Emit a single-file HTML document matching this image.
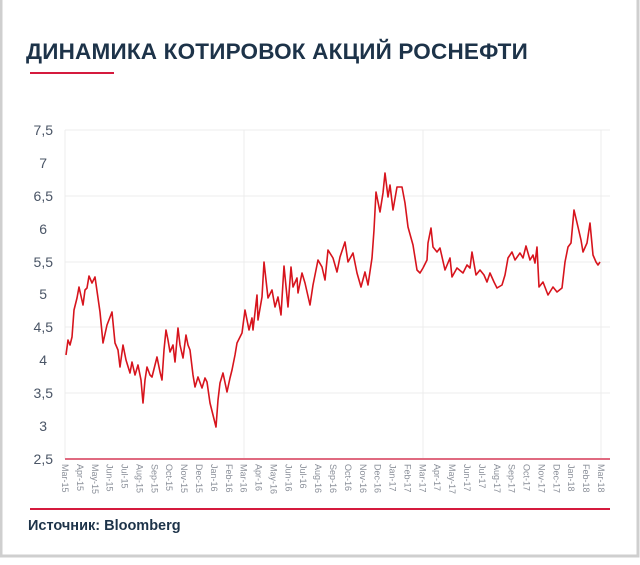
<!DOCTYPE html>
<html><head><meta charset="utf-8"><style>
html,body{margin:0;padding:0;background:#fff}
body{width:640px;height:560px;overflow:hidden;font-family:"Liberation Sans",sans-serif}
</style></head><body>
<svg width="640" height="560" xmlns="http://www.w3.org/2000/svg" font-family="Liberation Sans, sans-serif">
<rect x="0" y="0" width="640" height="560" fill="#fff"/>
<rect x="1" y="-2" width="637" height="558" fill="none" stroke="#cfcfcf" stroke-width="3"/>
<text x="26" y="59" font-size="22.5" font-weight="bold" fill="#1d3349" letter-spacing="0.2">ДИНАМИКА КОТИРОВОК АКЦИЙ РОСНЕФТИ</text>
<line x1="30" y1="73" x2="114" y2="73" stroke="#d51a3d" stroke-width="2"/>
<g stroke="#ececec" stroke-width="1">
<line x1="65" y1="130" x2="610" y2="130"/>
<line x1="65" y1="196" x2="610" y2="196"/>
<line x1="65" y1="262" x2="610" y2="262"/>
<line x1="65" y1="327" x2="610" y2="327"/>
<line x1="65" y1="393" x2="610" y2="393"/>
<line x1="65" y1="130" x2="65" y2="459"/>
<line x1="244" y1="130" x2="244" y2="459"/>
<line x1="423" y1="130" x2="423" y2="459"/>
<line x1="601" y1="130" x2="601" y2="459"/>
</g>
<g font-size="14" fill="#4a5566" text-anchor="end">
<text x="53" y="135">7,5</text><text x="47" y="168">7</text><text x="53" y="201">6,5</text>
<text x="47" y="234">6</text><text x="53" y="267">5,5</text><text x="47" y="299">5</text>
<text x="53" y="332">4,5</text><text x="47" y="365">4</text><text x="53" y="398">3,5</text>
<text x="47" y="431">3</text><text x="53" y="464">2,5</text>
</g>
<line x1="65" y1="459" x2="610" y2="459" stroke="#e06a80" stroke-width="2"/>
<g font-size="9" fill="#8a8f99">
<text transform="translate(62,464) rotate(90)">Mar-15</text>
<text transform="translate(76.9,464) rotate(90)">Apr-15</text>
<text transform="translate(91.8,464) rotate(90)">May-15</text>
<text transform="translate(106.7,464) rotate(90)">Jun-15</text>
<text transform="translate(121.6,464) rotate(90)">Jul-15</text>
<text transform="translate(136.5,464) rotate(90)">Aug-15</text>
<text transform="translate(151.3,464) rotate(90)">Sep-15</text>
<text transform="translate(166.2,464) rotate(90)">Oct-15</text>
<text transform="translate(181.1,464) rotate(90)">Nov-15</text>
<text transform="translate(196,464) rotate(90)">Dec-15</text>
<text transform="translate(210.9,464) rotate(90)">Jan-16</text>
<text transform="translate(225.8,464) rotate(90)">Feb-16</text>
<text transform="translate(240.7,464) rotate(90)">Mar-16</text>
<text transform="translate(255.6,464) rotate(90)">Apr-16</text>
<text transform="translate(270.5,464) rotate(90)">May-16</text>
<text transform="translate(285.4,464) rotate(90)">Jun-16</text>
<text transform="translate(300.2,464) rotate(90)">Jul-16</text>
<text transform="translate(315.1,464) rotate(90)">Aug-16</text>
<text transform="translate(330,464) rotate(90)">Sep-16</text>
<text transform="translate(344.9,464) rotate(90)">Oct-16</text>
<text transform="translate(359.8,464) rotate(90)">Nov-16</text>
<text transform="translate(374.7,464) rotate(90)">Dec-16</text>
<text transform="translate(389.6,464) rotate(90)">Jan-17</text>
<text transform="translate(404.5,464) rotate(90)">Feb-17</text>
<text transform="translate(419.4,464) rotate(90)">Mar-17</text>
<text transform="translate(434.2,464) rotate(90)">Apr-17</text>
<text transform="translate(449.1,464) rotate(90)">May-17</text>
<text transform="translate(464,464) rotate(90)">Jun-17</text>
<text transform="translate(478.9,464) rotate(90)">Jul-17</text>
<text transform="translate(493.8,464) rotate(90)">Aug-17</text>
<text transform="translate(508.7,464) rotate(90)">Sep-17</text>
<text transform="translate(523.6,464) rotate(90)">Oct-17</text>
<text transform="translate(538.5,464) rotate(90)">Nov-17</text>
<text transform="translate(553.4,464) rotate(90)">Dec-17</text>
<text transform="translate(568.2,464) rotate(90)">Jan-18</text>
<text transform="translate(583.1,464) rotate(90)">Feb-18</text>
<text transform="translate(598,464) rotate(90)">Mar-18</text>
</g>
<polyline fill="none" stroke="#d7141d" stroke-width="1.6" stroke-linejoin="round" points="
66,355 68,340 70,345 72,337 74,310 77,298 79,287 81,296 83,305 85,290 87,288 89,276 92,283 95,277 98,298 100,312 103,343 107,325 112,312 115,343 118,350 120,367 123,345 126,360 130,373 132,362 135,375 138,365 141,380 143,403 145,380 147,367 150,375 152,377 155,365 157,357 160,372 162,380 164,350 166,330 168,340 170,352 173,345 175,362 178,328 180,345 183,358 186,335 188,345 190,350 193,375 195,387 198,377 202,388 205,378 207,382 210,403 213,415 216,427 218,400 220,383 223,373 227,392 230,378 232,370 235,355 237,343 242,333 245,310 249,330 252,318 253,330 257,295 258,320 262,297 264,262 268,298 272,290 275,307 278,297 281,315 284,266 288,307 291,267 293,287 297,278 298,293 302,273 305,283 310,305 313,285 316,270 318,260 322,267 325,280 328,250 333,258 337,272 340,257 345,242 348,262 353,253 357,273 361,287 365,272 368,285 372,258 374,230 376,192 380,212 383,193 385,173 388,197 390,185 393,210 397,187 402,187 405,203 408,227 413,245 417,270 420,273 423,268 427,260 428,243 431,228 433,247 437,252 440,248 445,270 450,258 452,277 457,268 463,273 467,265 470,268 472,252 476,275 480,270 484,275 487,282 490,273 494,282 497,288 502,285 505,275 508,258 512,252 515,260 520,253 523,258 526,246 530,260 533,255 535,263 537,247 539,287 543,282 548,295 553,287 557,292 562,288 565,262 568,247 571,243 574,210 578,227 581,240 583,252 587,243 590,223 593,255 596,262 598,265 600,262"/>
<line x1="30" y1="509" x2="610" y2="509" stroke="#d51a3d" stroke-width="2"/>
<text x="28" y="530" font-size="14.5" font-weight="bold" fill="#1d3349">Источник: Bloomberg</text>
</svg>
</body></html>
